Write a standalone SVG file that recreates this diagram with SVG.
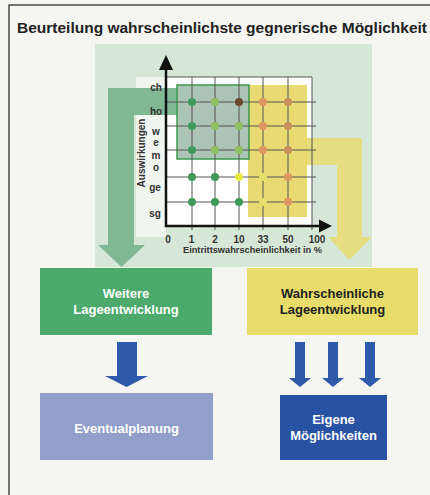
<svg xmlns="http://www.w3.org/2000/svg" width="430" height="495" viewBox="0 0 430 495">
<style>
  .frame{stroke:#4a4a4a;stroke-width:1.5;fill:none}
  .title{font-family:"Liberation Sans",Arial,sans-serif;font-weight:bold;font-size:15.5px;fill:#222}
  .lbl{font-family:"Liberation Sans",Arial,sans-serif;font-weight:bold;font-size:10px;fill:#333}
  .xl{text-anchor:middle}
  .yl{text-anchor:middle}
  .grid{stroke:#555;stroke-width:1;fill:none}
  .axis{stroke:#111;stroke-width:2.5;fill:none}
  .box-t{font-family:"Liberation Sans",Arial,sans-serif;font-weight:bold;font-size:13px;text-anchor:middle}
  .blue{fill:#2f5aab}
  .dg{fill:#3f9a5a}.lg{fill:#8cc060}.br{fill:#6a4830}.or{fill:#dc9860}.ob{fill:#c8905c}.ye{fill:#e8ec40}.ly{fill:#e6df70}
</style>
<rect x="0" y="0" width="430" height="495" fill="#f5f5f2"/>
<path class="frame" d="M9,495 L9,5 L430,5"/>
<text class="title" x="17" y="33">Beurteilung wahrscheinlichste gegnerische Möglichkeit</text>

<g id="chart">
  <rect x="95" y="44" width="277" height="223" fill="#d6e7d8"/>
  <rect x="136" y="77" width="30" height="160" fill="#f1f5ef"/>
  <rect x="166" y="77" width="146" height="149" fill="#ffffff"/>
</g>

<g id="connectors">
  <path id="arrow-green" d="M177,88 L108,88 L108,245 L98,245 L121.5,267 L145,245 L134,245 L134,115 L177,115 Z" fill="#80b894"/>
  <path id="arrow-yellow" d="M306,138 L362,138 L362,237 L372,237 L349.5,260 L328,237 L337,237 L337,165 L306,165 Z" fill="#e6dc80"/>
</g>

<g id="plot">
  <rect x="248" y="85" width="59" height="132" fill="#e6d45a" opacity="0.85"/>
  <rect x="177" y="85" width="72" height="74" fill="#5a8a6a" fill-opacity="0.5" stroke="#3a9a50" stroke-width="1.5"/>
  <g class="grid">
    <path d="M166,77 H312 M166,102 H316 M166,126 H316 M166,150 H316 M166,177 H316 M166,202 H316"/>
    <path d="M192,77 V230 M215,77 V230 M239,77 V230 M263,77 V230 M288,77 V230 M312,77 V230"/>
  </g>
  <g id="dots">
    <circle class="dg" cx="192" cy="102" r="4"/><circle class="lg" cx="215" cy="102" r="4"/><circle class="br" cx="239" cy="102" r="4"/><circle class="or" cx="263" cy="102" r="4"/><circle class="ob" cx="288" cy="102" r="4"/>
    <circle class="dg" cx="192" cy="126" r="4"/><circle class="lg" cx="215" cy="126" r="4"/><circle class="lg" cx="239" cy="126" r="4"/><circle class="or" cx="263" cy="126" r="4"/><circle class="ob" cx="288" cy="126" r="4"/>
    <circle class="dg" cx="192" cy="150" r="4"/><circle class="lg" cx="215" cy="150" r="4"/><circle class="lg" cx="239" cy="150" r="4"/><circle class="or" cx="263" cy="150" r="4"/><circle class="ob" cx="288" cy="150" r="4"/>
    <circle class="dg" cx="192" cy="177" r="4"/><circle class="dg" cx="215" cy="177" r="4"/><circle class="ye" cx="239" cy="177" r="4"/><circle class="ly" cx="263" cy="177" r="4"/><circle class="or" cx="288" cy="177" r="4"/>
    <circle class="dg" cx="192" cy="202" r="4"/><circle class="dg" cx="215" cy="202" r="4"/><circle class="dg" cx="239" cy="202" r="4"/><circle class="ly" cx="263" cy="202" r="4"/><circle class="or" cx="288" cy="202" r="4"/>
  </g>
  <path class="axis" d="M166,68 V226 H321"/>
  <path d="M166,55 L159,70 L173,70 Z M332,226 L319,219.5 L319,232.5 Z" fill="#111"/>
  <g class="lbl yl">
    <text x="156" y="91">ch</text>
    <text x="156" y="115">ho</text>
    <text x="156" y="135">w</text>
    <text x="156" y="146">e</text>
    <text x="156" y="159">m</text>
    <text x="156" y="171">o</text>
    <text x="155" y="191">ge</text>
    <text x="155" y="217">sg</text>
  </g>
  <text class="lbl" x="0" y="0" text-anchor="middle" transform="translate(144.5,153) rotate(-90)">Auswirkungen</text>
  <g class="lbl xl">
    <text x="168" y="243">0</text>
    <text x="191.5" y="243">1</text>
    <text x="215" y="243">2</text>
    <text x="239" y="243">10</text>
    <text x="263" y="243">33</text>
    <text x="288" y="243">50</text>
    <text x="317" y="243">100</text>
  </g>
  <text class="lbl" x="183" y="253" style="font-size:9.5px" textLength="139" lengthAdjust="spacingAndGlyphs">Eintrittswahrscheinlichkeit in %</text>
</g>

<g id="n-weitere">
  <rect x="40" y="268" width="172" height="67" fill="#4caa6c"/>
  <text class="box-t" x="126" y="298" fill="#fff">Weitere</text>
  <text class="box-t" x="126" y="314" fill="#fff">Lageentwicklung</text>
</g>
<g id="n-wahrscheinliche">
  <rect x="247" y="268" width="171" height="67" fill="#e8dc6a"/>
  <text class="box-t" x="332.5" y="298" fill="#222">Wahrscheinliche</text>
  <text class="box-t" x="332.5" y="314" fill="#222">Lageentwicklung</text>
</g>
<g id="n-eventual">
  <rect x="40" y="393" width="173" height="67" fill="#919fca"/>
  <text class="box-t" x="126.5" y="433" fill="#fff">Eventualplanung</text>
</g>
<g id="n-eigene">
  <rect x="280" y="395" width="107" height="65" fill="#2a52a4"/>
  <text class="box-t" x="333.5" y="424" fill="#fff">Eigene</text>
  <text class="box-t" x="333.5" y="440" fill="#fff">Möglichkeiten</text>
</g>

<g id="connectors-blue">
  <path class="blue" d="M117,342 H137 V376 H148 L126.5,387 L105,376 H117 Z"/>
  <path class="blue" d="M295,342 H305 V378 H311 L300,387 L289,378 H295 Z"/>
  <path class="blue" d="M328,342 H338 V378 H344 L333,387 L322,378 H328 Z"/>
  <path class="blue" d="M365,342 H375 V378 H381 L370,387 L359,378 H365 Z"/>
</g>
</svg>
